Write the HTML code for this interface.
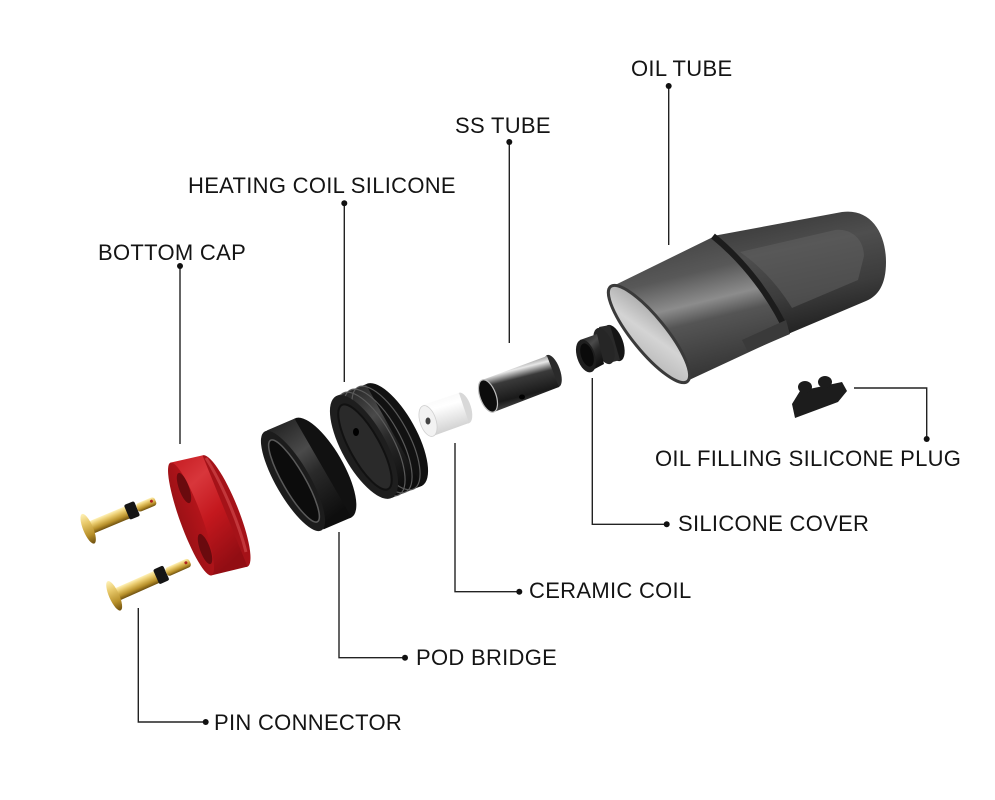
<!DOCTYPE html>
<html><head><meta charset="utf-8"><style>
html,body{margin:0;padding:0;background:#fff;}
svg{display:block}
text{font-family:"Liberation Sans",Arial,sans-serif;font-size:22px;fill:#141414;letter-spacing:0.3px;}
</style></head><body>
<svg width="995" height="800" viewBox="0 0 995 800" xmlns="http://www.w3.org/2000/svg">
<defs>
<linearGradient id="gold" x1="0" y1="0" x2="0" y2="1">
 <stop offset="0" stop-color="#fff2b8"/><stop offset="0.3" stop-color="#e9ca6c"/><stop offset="0.7" stop-color="#b8902a"/><stop offset="1" stop-color="#6e5010"/>
</linearGradient>
<linearGradient id="red" x1="0" y1="0" x2="0.6" y2="1">
 <stop offset="0" stop-color="#c41a20"/><stop offset="0.3" stop-color="#d8363b"/><stop offset="0.6" stop-color="#c4181e"/><stop offset="1" stop-color="#920d13"/>
</linearGradient>
<linearGradient id="redface" x1="0" y1="0" x2="0" y2="1">
 <stop offset="0" stop-color="#b3141a"/><stop offset="1" stop-color="#9c1116"/>
</linearGradient>
<linearGradient id="blk" x1="0" y1="0" x2="0.6" y2="1">
 <stop offset="0" stop-color="#1a1a1a"/><stop offset="0.4" stop-color="#4a4a4a"/><stop offset="0.6" stop-color="#2a2a2a"/><stop offset="1" stop-color="#0e0e0e"/>
</linearGradient>
<linearGradient id="white" x1="0" y1="0" x2="0.3" y2="1">
 <stop offset="0" stop-color="#f4f4f4"/><stop offset="0.4" stop-color="#ffffff"/><stop offset="1" stop-color="#cfcfcf"/>
</linearGradient>
<linearGradient id="steel" x1="0" y1="0" x2="0.35" y2="1">
 <stop offset="0" stop-color="#222"/><stop offset="0.25" stop-color="#9a9a9a"/><stop offset="0.35" stop-color="#e8e8e8"/><stop offset="0.5" stop-color="#3a3a3a"/><stop offset="0.8" stop-color="#1a1a1a"/><stop offset="1" stop-color="#555"/>
</linearGradient>
<linearGradient id="tube" x1="0.2" y1="0" x2="0.5" y2="1">
 <stop offset="0" stop-color="#404040"/><stop offset="0.3" stop-color="#585858"/><stop offset="0.5" stop-color="#8c8c8c"/><stop offset="0.62" stop-color="#555"/><stop offset="1" stop-color="#333"/>
</linearGradient>
<linearGradient id="cap" x1="0" y1="0" x2="0.3" y2="1">
 <stop offset="0" stop-color="#333"/><stop offset="0.4" stop-color="#4e4e4e"/><stop offset="0.75" stop-color="#3c3c3c"/><stop offset="1" stop-color="#262626"/>
</linearGradient>
<linearGradient id="face" x1="0" y1="0" x2="1" y2="1">
 <stop offset="0" stop-color="#a0a0a0"/><stop offset="0.5" stop-color="#d4d4d4"/><stop offset="1" stop-color="#b4b4b4"/>
</linearGradient>
</defs>

<!-- PINS -->
<g transform="translate(90,528) rotate(-22.7)">
 <rect x="0" y="-6.5" width="42" height="13" fill="url(#gold)"/>
 <rect x="40" y="-8" width="11" height="16" rx="2" fill="#151515"/>
 <rect x="51" y="-4.5" width="20" height="9" rx="3" fill="url(#gold)"/>
 <circle cx="67" cy="-1" r="1.5" fill="#b02020"/>
 <ellipse cx="-2" cy="0" rx="5" ry="16" fill="url(#gold)"/>
</g>
<g transform="translate(116,595) rotate(-24)">
 <rect x="0" y="-6.5" width="46" height="13" fill="url(#gold)"/>
 <rect x="44" y="-8" width="11" height="16" rx="2" fill="#151515"/>
 <rect x="55" y="-4.5" width="26" height="9" rx="3" fill="url(#gold)"/>
 <circle cx="77" cy="-1" r="1.5" fill="#b02020"/>
 <ellipse cx="-2" cy="0" rx="5" ry="16" fill="url(#gold)"/>
</g>

<!-- RED BOTTOM CAP -->
<g>
 <ellipse cx="225" cy="511" rx="60" ry="13" transform="rotate(68 225 511)" fill="#a51218"/>
 <polygon points="170.5,462.6 202.5,455.4 247.5,566.6 211.5,575.4" fill="url(#red)"/>
 <ellipse cx="191" cy="519" rx="60" ry="11" transform="rotate(70 191 519)" fill="url(#redface)"/>
 <ellipse cx="184" cy="488" rx="5" ry="16" transform="rotate(-20 184 488)" fill="#6a0a0e"/>
 <ellipse cx="205" cy="549" rx="5" ry="16" transform="rotate(-20 205 549)" fill="#6a0a0e"/>
 <path d="M206,458 C220,480 238,520 246,552" stroke="#e05a5c" stroke-width="3" fill="none" opacity="0.5"/>
</g>

<!-- POD BRIDGE -->
<g>
 <ellipse cx="323" cy="468" rx="57" ry="20" transform="rotate(60 323 468)" fill="#111"/>
 <polygon points="266.5,430.6 294.5,418.6 351.5,517.4 323.5,529.4" fill="url(#blk)"/>
 <ellipse cx="293" cy="481" rx="57" ry="17" transform="rotate(60 293 481)" fill="#1c1c1c"/>
 <ellipse cx="294" cy="481" rx="47" ry="11" transform="rotate(60 294 481)" fill="#0c0c0c" stroke="#5a5a5a" stroke-width="1.5"/>
</g>

<!-- HEATING COIL SILICONE -->
<g>
 <ellipse cx="394" cy="435" rx="58" ry="22" transform="rotate(61 394 435)" fill="#111"/>
 <polygon points="335.9,396.3 365.9,384.3 422.1,485.7 392.1,497.7" fill="url(#blk)"/>
 <ellipse cx="386" cy="438" rx="58" ry="22" transform="rotate(61 386 438)" fill="none" stroke="#5a5a5a" stroke-width="1.2"/>
 <ellipse cx="378" cy="441" rx="58" ry="22" transform="rotate(61 378 441)" fill="none" stroke="#5a5a5a" stroke-width="1.2"/>
 <ellipse cx="371" cy="444" rx="58" ry="22" transform="rotate(61 371 444)" fill="none" stroke="#5a5a5a" stroke-width="1.2"/>
 <ellipse cx="364" cy="447" rx="58" ry="22" transform="rotate(61 364 447)" fill="#1e1e1e"/>
 <ellipse cx="365" cy="447" rx="48" ry="15" transform="rotate(61 365 447)" fill="#2a2a2a" stroke="#111" stroke-width="2"/>
 <ellipse cx="356" cy="432" rx="3" ry="4" fill="#000"/>
</g>

<!-- CERAMIC COIL -->
<g>
 <ellipse cx="464" cy="408" rx="16" ry="7" transform="rotate(72 464 408)" fill="#d8d8d8"/>
 <polygon points="423,405 459,393 469,423 433,436" fill="url(#white)"/>
 <ellipse cx="428" cy="421" rx="16" ry="8" transform="rotate(72 428 421)" fill="#f2f2f2" stroke="#d0d0d0" stroke-width="0.8"/>
 <ellipse cx="428" cy="421" rx="2.5" ry="3.5" fill="#444"/>
</g>

<!-- SS TUBE -->
<g>
 <ellipse cx="553" cy="371" rx="17" ry="7" transform="rotate(70 553 371)" fill="#2a2a2a"/>
 <polygon points="482,380 547,356 559,387 494,412" fill="url(#steel)"/>
 <ellipse cx="488" cy="396" rx="17" ry="8" transform="rotate(70 488 396)" fill="#0c0c0c" stroke="#bdbdbd" stroke-width="1.2"/>
 <ellipse cx="522" cy="397" rx="3" ry="2.5" fill="#000"/>
</g>

<!-- SILICONE COVER -->
<g>
 <ellipse cx="614" cy="343" rx="19" ry="9" transform="rotate(70 614 343)" fill="#151515"/>
 <polygon points="599,327 610,325 620,360 609,363" fill="#2a2a2a"/>
 <ellipse cx="604" cy="346" rx="19" ry="9" transform="rotate(70 604 346)" fill="#262626"/>
 <polygon points="580,340 597,334 604,364 589,372" fill="url(#blk)"/>
 <ellipse cx="586" cy="356" rx="17" ry="9" transform="rotate(72 586 356)" fill="#1e1e1e"/>
 <ellipse cx="587" cy="355" rx="12" ry="6" transform="rotate(72 587 355)" fill="#0a0a0a"/>
</g>

<!-- OIL TUBE -->
<g>
 <path d="M713,236 L842,212 C870,208 886,232 886,262 C886,285 878,296 866,301 L788,334 C772,298 745,262 713,236 Z" fill="url(#cap)"/>
 <path d="M740,252 L835,230 C852,228 864,240 864,256 L858,280 L792,308 C778,285 760,266 740,252 Z" fill="#626262" opacity="0.5"/>
 <path d="M611,287 L713,237 C745,262 772,298 788,334 L687,381 Z" fill="url(#tube)"/>
 <path d="M713,236 C745,262 772,298 788,334" fill="none" stroke="#1c1c1c" stroke-width="6"/>
 <path d="M742,340 L786,320 L790,334 L748,352 Z" fill="#3a3a3a"/>
 <ellipse cx="649" cy="334" rx="61" ry="17" transform="rotate(51 649 334)" fill="url(#face)" stroke="#3a3a3a" stroke-width="3"/>
</g>

<!-- OIL FILLING PLUG -->
<g fill="#1c1c1c">
 <path d="M792,404 L800,391 L842,382 L847,391 L838,402 L795,418 Z"/>
 <ellipse cx="805" cy="387" rx="7" ry="6"/>
 <ellipse cx="825" cy="382" rx="7" ry="6"/>
</g>

<!-- LEADER LINES -->
<g stroke="#222" stroke-width="1.4" fill="none">
 <path d="M668.7,86 V245"/>
 <path d="M509.3,142 V343"/>
 <path d="M344.3,203 V382"/>
 <path d="M180,266 V444"/>
 <path d="M854,388 H926.7 V439"/>
 <path d="M592.3,378 V524.3 H666.7"/>
 <path d="M455,443 V591.7 H519.3"/>
 <path d="M339,532 V657.7 H405"/>
 <path d="M138.3,608 V722 H205.7"/>
</g>
<g fill="#111">
 <circle cx="668.7" cy="86" r="3"/>
 <circle cx="509.3" cy="142" r="3"/>
 <circle cx="344.3" cy="203.3" r="3"/>
 <circle cx="180" cy="266" r="3"/>
 <circle cx="926.7" cy="439" r="3"/>
 <circle cx="666.7" cy="524.3" r="3"/>
 <circle cx="519.3" cy="591.7" r="3"/>
 <circle cx="405" cy="657.7" r="3"/>
 <circle cx="205.7" cy="722" r="3"/>
</g>

<!-- LABELS -->
<text x="631" y="76">OIL TUBE</text>
<text x="455" y="133">SS TUBE</text>
<text x="188" y="193">HEATING COIL SILICONE</text>
<text x="98" y="260">BOTTOM CAP</text>
<text x="655" y="466">OIL FILLING SILICONE PLUG</text>
<text x="678" y="531">SILICONE COVER</text>
<text x="529" y="598">CERAMIC COIL</text>
<text x="416" y="665">POD BRIDGE</text>
<text x="214" y="730">PIN CONNECTOR</text>
</svg>
</body></html>
